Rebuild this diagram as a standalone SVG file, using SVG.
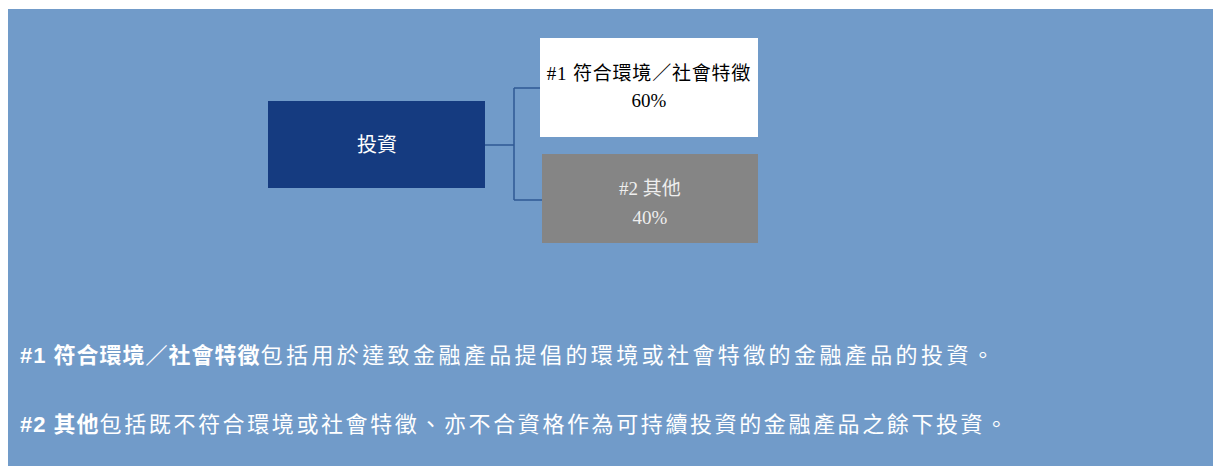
<svg xmlns="http://www.w3.org/2000/svg" width="1213" height="466" viewBox="0 0 1213 466">
<style>
.cap{font-family:"Liberation Serif","Noto Sans CJK TC",serif;font-size:19px;text-anchor:middle}
.note{font-family:"Liberation Sans","Noto Sans CJK TC",sans-serif;font-size:22px;fill:#ffffff;letter-spacing:2.6px}
.b{font-weight:bold;letter-spacing:1px}
.conn{fill:none;stroke:#2f5a94;stroke-width:1.5}
</style>
<rect x="0" y="0" width="1213" height="466" fill="#ffffff"/>
<rect x="8" y="9" width="1205" height="457" fill="#719bc9"/>
<g id="connectors">
<path class="conn" d="M485 145 H514 M514 88 V200 M514 88 H541 M514 200 H542"/>
</g>
<g id="node-investment">
<rect x="268" y="101" width="217" height="87" fill="#153b80"/>
<text class="cap" x="377" y="152" fill="#ffffff" style="font-size:20px">投資</text>
</g>
<g id="node-1">
<rect x="540" y="38" width="218" height="99" fill="#ffffff"/>
<text class="cap" x="649" y="80" fill="#000000" letter-spacing="0.8">#1 符合環境／社會特徵</text>
<text class="cap" x="649" y="107" fill="#000000">60%</text>
</g>
<g id="node-2">
<rect x="542" y="154" width="216" height="89" fill="#858585"/>
<text class="cap" x="650" y="195" fill="#eeeeee">#2 其他</text>
<text class="cap" x="650" y="224" fill="#eeeeee">40%</text>
</g>
<text class="note" x="20" y="363" style="letter-spacing:3.4px"><tspan class="b">#1 符合環境／社會特徵</tspan>包括用於達致金融產品提倡的環境或社會特徵的金融產品的投資。</text>
<text class="note" x="20" y="432"><tspan class="b">#2 其他</tspan>包括既不符合環境或社會特徵、亦不合資格作為可持續投資的金融產品之餘下投資。</text>
</svg>
